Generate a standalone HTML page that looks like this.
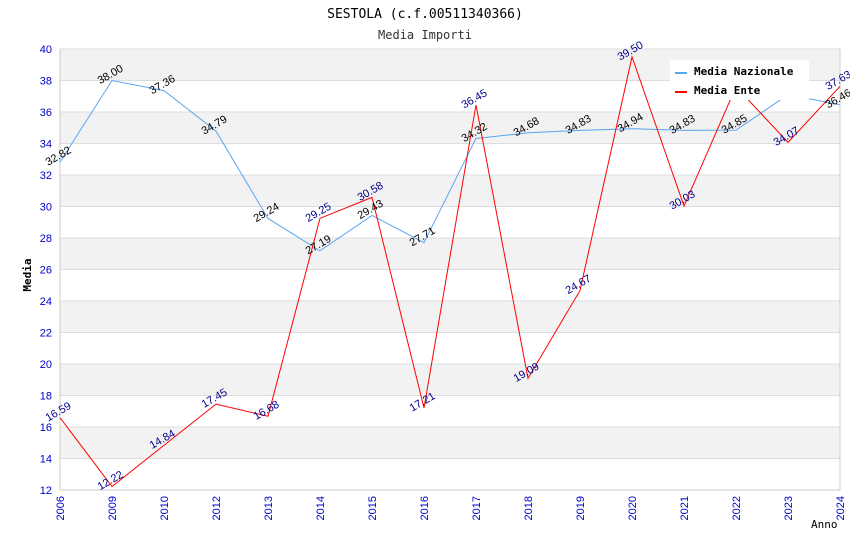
<!DOCTYPE html>
<html><head><meta charset="utf-8"><style>
body{margin:0;background:#fff}
svg text{font-family:"DejaVu Sans Mono","Liberation Mono",monospace}
svg text.s{font-family:"Liberation Sans","DejaVu Sans",sans-serif}
</style></head><body>
<svg id="c" width="850" height="550" xmlns="http://www.w3.org/2000/svg">
<text x="425" y="18" text-anchor="middle" font-size="13" fill="#000">SESTOLA (c.f.00511340366)</text>
<text x="425" y="39" text-anchor="middle" font-size="12" fill="#333">Media Importi</text>
<g id="grid"></g><g id="axes"></g><g id="series"></g><g id="labels"></g>
<g>
<rect x="670" y="60" width="139" height="40" fill="#fff"/>
<line x1="675" y1="73" x2="687" y2="73" stroke="#5aa5f0" stroke-width="2"/>
<text x="694" y="75" font-size="11" font-weight="bold">Media Nazionale</text>
<line x1="675" y1="92" x2="687" y2="92" stroke="#f00" stroke-width="2"/>
<text x="694" y="94" font-size="11" font-weight="bold">Media Ente</text>
</g>
<text x="26" y="270" font-size="11" font-weight="bold" transform="rotate(-90 31 270)" text-anchor="middle">Media</text>
<text x="811" y="528" font-size="11">Anno</text>
</svg>
<script>
const categories=["2006","2009","2010","2012","2013","2014","2015","2016","2017","2018","2019","2020","2021","2022","2023","2024"];
const nazionale=[32.82,38.00,37.36,34.79,29.24,27.19,29.43,27.71,34.32,34.68,34.83,34.94,34.83,34.85,37.10,36.46];
const ente=[16.59,12.22,14.84,17.45,16.68,29.25,30.58,17.21,36.45,19.09,24.67,39.50,30.03,37.60,34.07,37.63];
const yTicks=[12,14,16,18,20,22,24,26,28,30,32,34,36,38,40];
const NS="http://www.w3.org/2000/svg";
const L=60,R=840,T=49,B=490,yMin=12,yMax=40;
const xs=i=>L+i*(R-L)/(categories.length-1);
const ys=v=>B-(v-yMin)*(B-T)/(yMax-yMin);
function mk(tag,attrs,parent){const e=document.createElementNS(NS,tag);for(const k in attrs)e.setAttribute(k,attrs[k]);document.getElementById(parent).appendChild(e);return e;}
for(let i=0;i<yTicks.length-1;i++){
  const a=yTicks[i],b=yTicks[i+1];
  const r=mk('rect',{x:L,y:ys(b),width:R-L,height:ys(a)-ys(b),fill:(i%2==1)?'#f2f2f2':'#fff'},'grid');
  
  
}
yTicks.forEach(v=>{
  const l=mk('line',{x1:L,x2:R,y1:ys(v),y2:ys(v),stroke:'#ddd','stroke-width':1},'grid');
  
  
  const t=mk('text',{x:L-8,y:ys(v)+4,'text-anchor':'end','font-size':11,fill:'#00c',class:'s'},'axes');
  t.textContent=v;
  
  
});
const ax=mk('line',{x1:L,x2:L,y1:T,y2:B,stroke:'#ccc'},'axes');


const ax2=mk('line',{x1:R,x2:R,y1:T,y2:B,stroke:'#ccc'},'axes');


const bx=mk('line',{x1:L,x2:R,y1:B,y2:B,stroke:'#ccc'},'axes');


categories.forEach((c,i)=>{
  const x=xs(i);
  const t=mk('text',{x:x+4,y:B+6,'text-anchor':'end','font-size':11,fill:'#00c',class:'s',transform:`rotate(-90 ${x+4} ${B+6})`},'axes');
  t.textContent=c;
  
  
});
function series(vals,color,lblColor,name){
  const p=mk('polyline',{points:vals.map((v,i)=>xs(i)+','+ys(v)).join(' '),fill:'none',stroke:color,'stroke-width':1},'series');
  
  
  vals.forEach((v,i)=>{
    const x=xs(i),y=ys(v);
    const t=mk('text',{x:x,y:y-3,'text-anchor':'middle','font-size':11,fill:lblColor,class:'s',transform:`rotate(-30 ${x} ${y-3})`},'labels');
    t.textContent=v.toFixed(2);
    
    
  });
}
series(nazionale,'#5aa5f0','#000','nazionale');
series(ente,'#f00','#00008b','ente');
</script>
</body></html>
